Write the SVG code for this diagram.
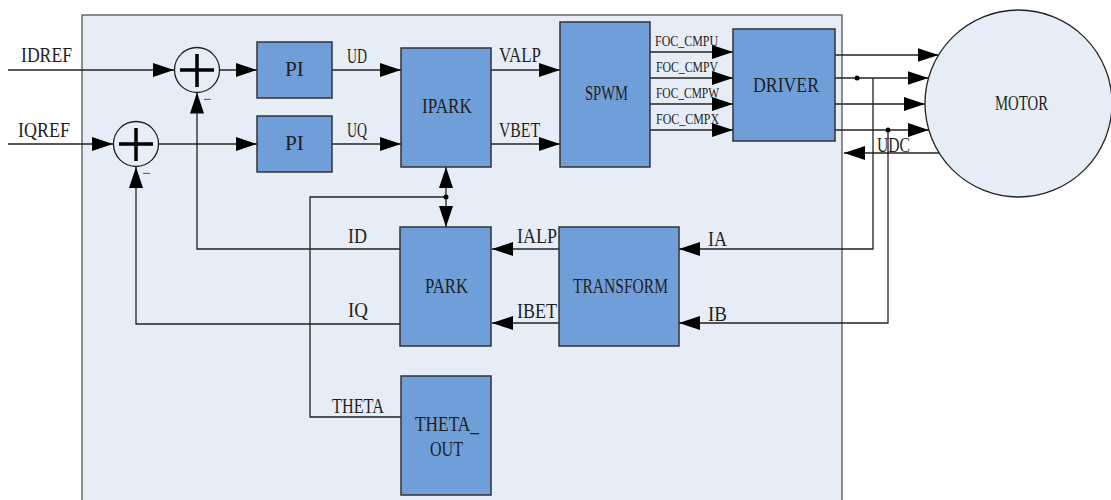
<svg xmlns="http://www.w3.org/2000/svg" width="1111" height="500" viewBox="0 0 1111 500">
<defs>
<marker id="ah" markerUnits="userSpaceOnUse" markerWidth="22" markerHeight="14" refX="21" refY="7" orient="auto">
<path d="M0,0 L21,7 L0,14 z" fill="#000"/>
</marker>
<style>
.blk{fill:#6f9ed8;stroke:#333;stroke-width:1.5}
.t{font-family:"Liberation Serif","DejaVu Serif",serif;font-size:21px;fill:#1e1e1e}
.s{font-family:"Liberation Serif","DejaVu Serif",serif;font-size:15px;fill:#1e1e1e}
.w{fill:none;stroke:#222;stroke-width:1.3}
.a{marker-end:url(#ah)}
.sum{fill:#e7edf7;stroke:#222;stroke-width:1.3}
.plus{stroke:#000;stroke-width:3.5}
</style>
</defs>
<rect width="1111" height="500" fill="#fff"/>
<rect id="frame" x="82" y="15" width="760" height="500" fill="#e6edf7" stroke="#555" stroke-width="1.3"/>

<g id="connectors">
<path class="w a" d="M8,70 H174"/>
<path class="w a" d="M8,144 H113"/>
<path class="w a" d="M219.5,70 H257"/>
<path class="w a" d="M159,144 H257"/>
<path class="w a" d="M332,70 H401"/>
<path class="w a" d="M332,144 H401"/>
<path class="w a" d="M491,70 H560"/>
<path class="w a" d="M491,144 H560"/>
<path class="w a" d="M650,52 H733"/>
<path class="w a" d="M650,78 H733"/>
<path class="w a" d="M650,104 H733"/>
<path class="w a" d="M650,130 H733"/>
<path class="w a" d="M835,55 H938.6"/>
<path class="w a" d="M835,78 H928.5"/>
<path class="w a" d="M835,104 H925"/>
<path class="w a" d="M835,130 H928.8"/>
<path class="w a" d="M939,153 H844"/>
<path class="w a" d="M873,78 V249 H679"/>
<path class="w a" d="M888,130 V323 H679"/>
<path class="w a" d="M559,249 H492"/>
<path class="w a" d="M559,323 H492"/>
<path class="w a" d="M400,249 H197 V92.5"/>
<path class="w a" d="M400,324 H136 V167"/>
<path class="w a" d="M446,197 V167"/>
<path class="w a" d="M446,197 V227"/>
<path class="w" d="M446,197 H310 V417 H401"/>
<circle cx="446" cy="197" r="2.5" fill="#000"/>
<circle cx="857" cy="78" r="2.5" fill="#000"/>
<circle cx="888" cy="130" r="2.5" fill="#000"/>
<text class="t" x="21" y="62" textLength="51" lengthAdjust="spacingAndGlyphs">IDREF</text>
<text class="t" x="18" y="137" textLength="52" lengthAdjust="spacingAndGlyphs">IQREF</text>
<text class="t" x="347" y="63" textLength="20" lengthAdjust="spacingAndGlyphs">UD</text>
<text class="t" x="347" y="137" textLength="20" lengthAdjust="spacingAndGlyphs">UQ</text>
<text class="t" x="499" y="62" textLength="42" lengthAdjust="spacingAndGlyphs">VALP</text>
<text class="t" x="499" y="137" textLength="41" lengthAdjust="spacingAndGlyphs">VBET</text>
<text class="s" x="655" y="46" textLength="63" lengthAdjust="spacingAndGlyphs">FOC_CMPU</text>
<text class="s" x="656" y="72" textLength="62" lengthAdjust="spacingAndGlyphs">FOC_CMPV</text>
<text class="s" x="656" y="98" textLength="63" lengthAdjust="spacingAndGlyphs">FOC_CMPW</text>
<text class="s" x="656" y="124" textLength="63" lengthAdjust="spacingAndGlyphs">FOC_CMPX</text>
<text class="t" x="877" y="152" textLength="33" lengthAdjust="spacingAndGlyphs">UDC</text>
<text class="t" x="708" y="246" textLength="19" lengthAdjust="spacingAndGlyphs">IA</text>
<text class="t" x="708" y="321" textLength="19" lengthAdjust="spacingAndGlyphs">IB</text>
<text class="t" x="517" y="243" textLength="40" lengthAdjust="spacingAndGlyphs">IALP</text>
<text class="t" x="517" y="318" textLength="40" lengthAdjust="spacingAndGlyphs">IBET</text>
<text class="t" x="348" y="243" textLength="19" lengthAdjust="spacingAndGlyphs">ID</text>
<text class="t" x="348" y="317" textLength="20" lengthAdjust="spacingAndGlyphs">IQ</text>
<text class="t" x="332" y="413" textLength="52" lengthAdjust="spacingAndGlyphs">THETA</text>
</g>

<g id="sum1">
<circle class="sum" cx="197" cy="70" r="22.5"/>
<path class="plus" d="M180,70 H214 M197,54 V87"/>
<text class="s" x="203" y="104">−</text>
</g>
<g id="sum2">
<circle class="sum" cx="136" cy="144" r="22.5"/>
<path class="plus" d="M119,144 H153 M136,128 V161"/>
<text class="s" x="142" y="178">−</text>
</g>

<g id="pi1">
<rect class="blk" x="257" y="42" width="75" height="56"/>
<text class="t" x="285" y="76" textLength="19" lengthAdjust="spacingAndGlyphs">PI</text>
</g>
<g id="pi2">
<rect class="blk" x="257" y="116" width="75" height="56"/>
<text class="t" x="285" y="150" textLength="19" lengthAdjust="spacingAndGlyphs">PI</text>
</g>
<g id="ipark">
<rect class="blk" x="401" y="48" width="90" height="119"/>
<text class="t" x="422" y="113" textLength="50" lengthAdjust="spacingAndGlyphs">IPARK</text>
</g>
<g id="spwm">
<rect class="blk" x="560" y="22" width="90" height="145"/>
<text class="t" x="585" y="100" textLength="43" lengthAdjust="spacingAndGlyphs">SPWM</text>
</g>
<g id="driver">
<rect class="blk" x="733" y="29" width="102" height="112"/>
<text class="t" x="753" y="92" textLength="66" lengthAdjust="spacingAndGlyphs">DRIVER</text>
</g>
<g id="motor">
<circle cx="1018.5" cy="103.5" r="93.5" fill="#e7edf7" stroke="#222" stroke-width="1.3"/>
<text class="t" x="995" y="110" textLength="53" lengthAdjust="spacingAndGlyphs">MOTOR</text>
</g>
<g id="transform">
<rect class="blk" x="559" y="227" width="120" height="119"/>
<text class="t" x="573" y="293" textLength="95" lengthAdjust="spacingAndGlyphs">TRANSFORM</text>
</g>
<g id="park">
<rect class="blk" x="400" y="227" width="91" height="119"/>
<text class="t" x="425" y="293" textLength="43" lengthAdjust="spacingAndGlyphs">PARK</text>
</g>
<g id="theta_out">
<rect class="blk" x="401" y="376" width="90" height="119"/>
<text class="t" x="415" y="431" textLength="64" lengthAdjust="spacingAndGlyphs">THETA_</text>
<text class="t" x="430" y="456" textLength="33" lengthAdjust="spacingAndGlyphs">OUT</text>
</g>
</svg>
